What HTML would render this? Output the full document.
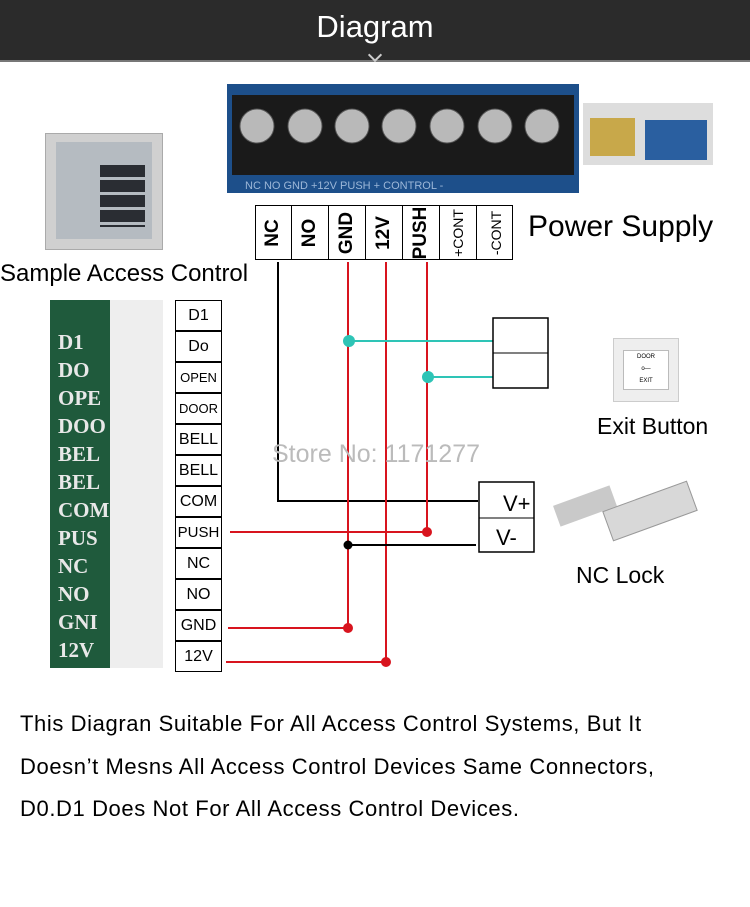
<!DOCTYPE html><html><head><style>
body{margin:0;width:750px;height:907px;background:#fff;position:relative;overflow:hidden;font-family:"Liberation Sans",sans-serif}
.a{position:absolute}
.hdr{left:0;top:0;width:750px;height:60px;background:#2b2b2b;border-bottom:2px solid #777}
.col{position:absolute;top:205px;width:37px;height:55px;border-right:1.5px solid #000;box-sizing:border-box}
.col span{position:absolute;left:50%;top:50%;transform:translate(-50%,-50%) rotate(-90deg);font-weight:bold;font-size:19px;white-space:nowrap}
.row{position:absolute;left:175px;width:47px;height:31px;border:1.5px solid #000;box-sizing:border-box;text-align:center;font-size:16px;line-height:29px;background:#fff}
.bt{font-size:22px;left:20px;letter-spacing:0.6px;white-space:nowrap}
</style></head><body>
<div class="a hdr"></div>
<div class="a" style="left:0;width:750px;top:9px;text-align:center;color:#fff;font-size:31px">Diagram</div>
<div class="a" style="left:370px;top:50px;width:8px;height:8px;border-right:2px solid #ccc;border-bottom:2px solid #ccc;transform:rotate(45deg)"></div>

<div class="a" style="left:227px;top:84px;width:352px;height:109px;background:#1d4f8a"></div>
<div class="a" style="left:232px;top:95px;width:342px;height:80px;background:#1a1a1a"></div>
<svg class="a" style="left:227px;top:84px" width="352" height="109">
<g fill="#b9b9b9" stroke="#555">
<circle cx="30" cy="42" r="17"/><circle cx="78" cy="42" r="17"/><circle cx="125" cy="42" r="17"/><circle cx="172" cy="42" r="17"/><circle cx="220" cy="42" r="17"/><circle cx="268" cy="42" r="17"/><circle cx="315" cy="42" r="17"/></g>
<text x="18" y="105" fill="#9cb7d8" font-size="11" font-family="Liberation Sans">NC    NO    GND  +12V  PUSH  + CONTROL -</text></svg>
<div class="a" style="left:583px;top:103px;width:130px;height:62px;background:#ddd"></div>
<div class="a" style="left:590px;top:118px;width:45px;height:38px;background:#c8a84a"></div>
<div class="a" style="left:645px;top:120px;width:62px;height:40px;background:#2a5fa0"></div>
<div class="a" style="left:45px;top:133px;width:118px;height:117px;background:#d0d0d0;border:1px solid #aaa;box-sizing:border-box"></div>
<div class="a" style="left:56px;top:142px;width:96px;height:97px;background:#b5bbc1"></div>
<div class="a" style="left:100px;top:165px;width:45px;height:62px;background:repeating-linear-gradient(#2a2d33 0 12px,#b5bbc1 12px 15px)"></div>

<div class="a" style="left:255px;top:205px;width:258px;height:55px;border:1.5px solid #000;box-sizing:border-box"></div>
<div class="col" style="left:255px"><span>NC</span></div>
<div class="col" style="left:292px"><span>NO</span></div>
<div class="col" style="left:329px"><span>GND</span></div>
<div class="col" style="left:366px"><span>12V</span></div>
<div class="col" style="left:403px"><span>PUSH</span></div>
<div class="col" style="left:440px"><span style="font-weight:normal;font-size:14px">+CONT</span></div>
<div class="col" style="left:477px;border:none"><span style="font-weight:normal;font-size:14px">-CONT</span></div>
<div class="a" style="left:528px;top:210px;font-size:30px">Power Supply</div>
<div class="a" style="left:0;top:260px;font-size:24px">Sample Access Control</div>

<div class="a" style="left:50px;top:300px;width:113px;height:368px;background:#1f5a3c"></div>
<div class="a" style="left:110px;top:300px;width:53px;height:368px;background:#eee"></div>
<div class="a" style="left:58px;top:328px;color:#e8e8e8;font-family:'Liberation Serif',serif;font-size:21px;line-height:28px;font-weight:bold">D1<br>DO<br>OPE<br>DOO<br>BEL<br>BEL<br>COM<br>PUS<br>NC<br>NO<br>GNI<br>12V</div>

<div class="row" style="top:300px">D1</div>
<div class="row" style="top:331px">Do</div>
<div class="row" style="top:362px;font-size:13px">OPEN</div>
<div class="row" style="top:393px;font-size:13px">DOOR</div>
<div class="row" style="top:424px">BELL</div>
<div class="row" style="top:455px">BELL</div>
<div class="row" style="top:486px">COM</div>
<div class="row" style="top:517px;font-size:15px">PUSH</div>
<div class="row" style="top:548px">NC</div>
<div class="row" style="top:579px">NO</div>
<div class="row" style="top:610px">GND</div>
<div class="row" style="top:641px">12V</div>

<svg class="a" style="left:0;top:0" width="750" height="907">
<g fill="none" stroke-width="2">
<path d="M278 262V501H478" stroke="#000"/>
<path d="M348 262V628H228" stroke="#d8141e"/>
<path d="M386 262V662H226" stroke="#d8141e"/>
<path d="M427 262V532H230" stroke="#d8141e"/>
<path d="M348 545H476" stroke="#000"/>
<path d="M349 341H493M428 377H493" stroke="#2ec4b6"/>
</g>
<g fill="#d8141e"><circle cx="348" cy="628" r="5"/><circle cx="386" cy="662" r="5"/><circle cx="427" cy="532" r="5"/></g>
<circle cx="349" cy="341" r="6" fill="#2ec4b6"/><circle cx="428" cy="377" r="6" fill="#2ec4b6"/>
<circle cx="348" cy="545" r="4.5" fill="#000"/>
<rect x="493" y="318" width="55" height="70" fill="#fff" stroke="#000" stroke-width="1.5"/><path d="M493 353H548" stroke="#000"/>
<rect x="479" y="482" width="55" height="70" fill="#fff" stroke="#000" stroke-width="1.5"/><path d="M479 518H534" stroke="#000"/>
<text x="503" y="511" font-size="22" font-family="Liberation Sans">V+</text>
<text x="496" y="545" font-size="22" font-family="Liberation Sans">V-</text>
</svg>
<div class="a" style="left:272px;top:440px;font-size:25px;color:#bbb">Store No: 1171277</div>

<div class="a" style="left:613px;top:338px;width:66px;height:64px;background:#eee;border:1px solid #ccc;box-sizing:border-box"></div>
<div class="a" style="left:623px;top:350px;width:46px;height:40px;background:#fff;border:1px solid #bbb;box-sizing:border-box;font-size:6px;text-align:center;line-height:12px">DOOR<br>o—<br>EXIT</div>
<div class="a" style="left:597px;top:413px;font-size:23px">Exit Button</div>
<div class="a" style="left:555px;top:495px;width:60px;height:22px;background:#c9c9c9;transform:rotate(-20deg)"></div>
<div class="a" style="left:605px;top:495px;width:88px;height:30px;background:#d8d8d8;border:1px solid #999;transform:rotate(-20deg)"></div>
<div class="a" style="left:576px;top:562px;font-size:23px">NC Lock</div>

<div class="a bt" style="top:711px">This Diagran Suitable For All Access Control Systems, But It</div>
<div class="a bt" style="top:754px">Doesn’t Mesns All Access Control Devices Same Connectors,</div>
<div class="a bt" style="top:796px">D0.D1 Does Not For All Access Control Devices.</div>
</body></html>
